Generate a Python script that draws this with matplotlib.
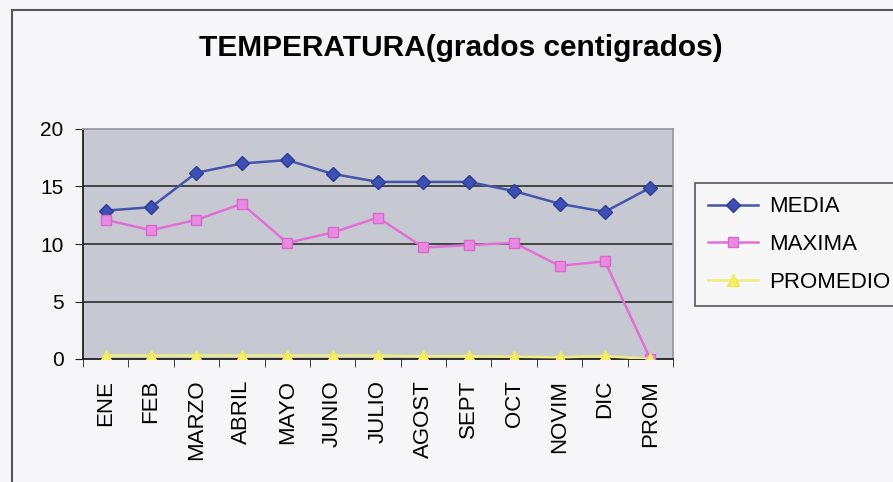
import numpy as np
import matplotlib.pyplot as plt
from matplotlib.lines import Line2D

# data
meses = ['ENE', 'FEB', 'MARZO', 'ABRIL', 'MAYO', 'JUNIO', 'JULIO',
         'AGOST', 'SEPT', 'OCT', 'NOVIM', 'DIC', 'PROM']
media = [12.9, 13.2, 16.2, 17.0, 17.3, 16.1, 15.4, 15.4, 15.4, 14.6, 13.5, 12.8, 14.9]
maxima = [12.1, 11.2, 12.1, 13.5, 10.1, 11.0, 12.3, 9.7, 9.9, 10.1, 8.1, 8.5, 0.0]
promedio = [0.3, 0.3, 0.3, 0.3, 0.3, 0.3, 0.3, 0.25, 0.25, 0.2, 0.15, 0.25, 0.0]
yticks = [0, 5, 10, 15, 20]

W, H = 893, 482
plt.rcParams['font.family'] = ['Liberation Sans', 'DejaVu Sans']

fig = plt.figure(figsize=(W / 100, H / 100), dpi=100)
fig.patch.set_facecolor('#f6f6f8')

# plot area in pixels: left 83, right 673, top 129, bottom 359
ax = fig.add_axes([83 / W, 1 - 359 / H, (673 - 83) / W, (359 - 129) / H])
ax.set_facecolor('#c7c9d2')

x = np.arange(len(meses)) + 0.5
ax.plot(x, media, color='#4455aa', lw=1.8, marker='D', ms=7,
        mfc='#3c4fb4', mec='#2c3c90', label='MEDIA', zorder=4)
ax.plot(x, maxima, color='#e070d6', lw=1.8, marker='s', ms=7,
        mfc='#e98ae2', mec='#d868cc', label='MAXIMA', zorder=4)
ax.plot(x, promedio, color='#eeee80', lw=1.8, marker='^', ms=8,
        mfc='#f4f060', mec='#eee860', label='PROMEDIO', zorder=4)

ax.set_xlim(0, len(meses))
ax.set_ylim(0, 20)
ax.set_yticks(yticks)
ax.set_yticklabels([str(v) for v in yticks], fontsize=15)
ax.set_xticks(x)
ax.set_xticklabels(meses, rotation=90, fontsize=16)
ax.set_xticks(np.arange(len(meses) + 1), minor=True)
ax.tick_params(axis='x', which='major', length=0, pad=15)
ax.tick_params(axis='x', which='minor', length=6, direction='out', color='#202020')
ax.tick_params(axis='y', length=6, direction='out', color='#202020', pad=8)

for v in yticks[1:-1]:
    ax.axhline(v, color='#3a3a3a', lw=1.3, zorder=1)

ax.spines['left'].set_color('#202020')
ax.spines['bottom'].set_color('#202020')
ax.spines['top'].set_color('#9a9aa0')
ax.spines['right'].set_color('#9a9aa0')
for s in ax.spines.values():
    s.set_linewidth(1.3)

fig.text(461 / W, 1 - 48 / H, 'TEMPERATURA(grados centigrados)',
         ha='center', va='center', fontsize=21.5, fontweight='bold')

leg = fig.legend(loc='upper left', bbox_to_anchor=(695 / W, 1 - 183 / H),
                 borderaxespad=0, fancybox=False, frameon=True,
                 handlelength=2.25, handletextpad=0.5, borderpad=0.6,
                 labelspacing=0.75, prop={'size': 16})
leg.get_frame().set_edgecolor('#303030')
leg.get_frame().set_facecolor('#f8f8f8')
leg.get_frame().set_linewidth(1.2)

# outer chart frame
fig.add_artist(Line2D([12 / W, 12 / W], [0, 1 - 10 / H], color='#555555', lw=1.5))
fig.add_artist(Line2D([12 / W, 1], [1 - 10 / H, 1 - 10 / H], color='#555555', lw=1.5))

fig.savefig('out.png', dpi=100, facecolor=fig.get_facecolor())
